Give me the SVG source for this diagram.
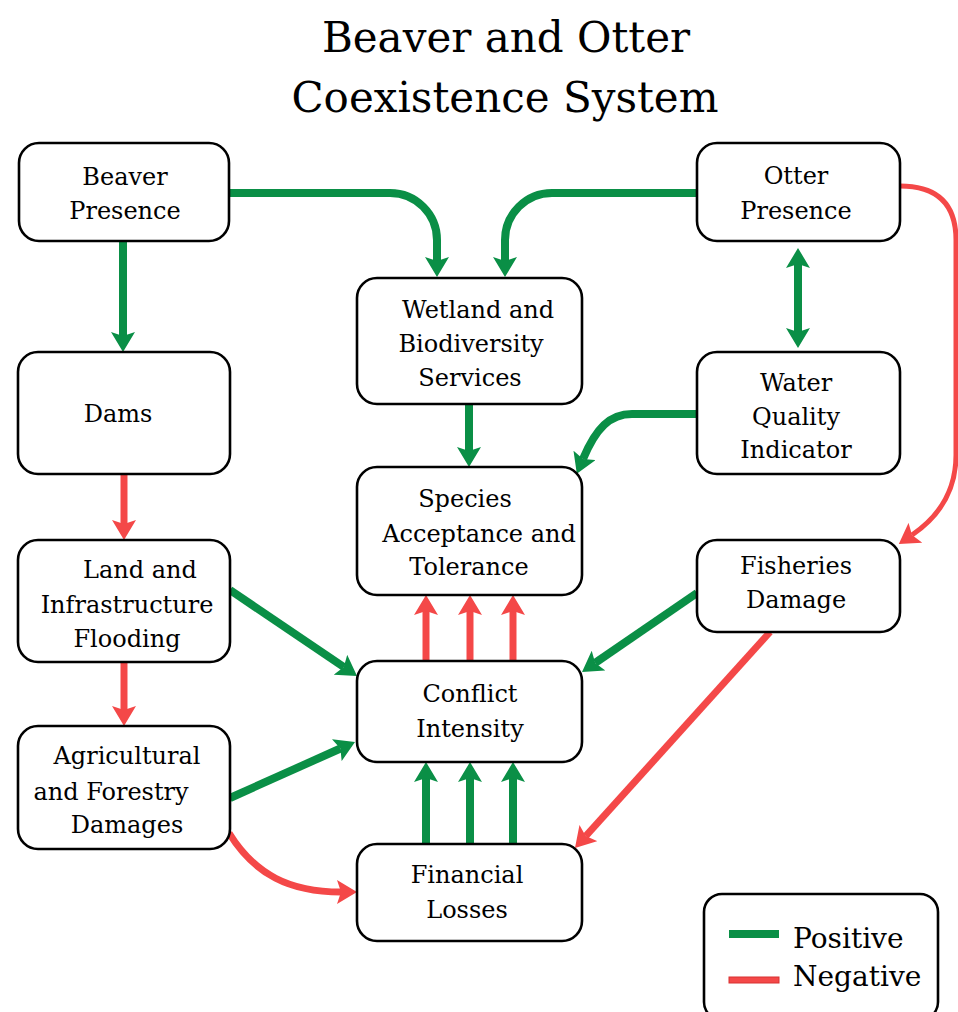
<svg xmlns="http://www.w3.org/2000/svg" width="958" height="1012" viewBox="0 0 958 1012">
<defs>
<style>
.box{fill:#fff;stroke:#000;stroke-width:2.6}
.t{font-family:"DejaVu Serif","Liberation Serif",serif;font-size:24px;fill:#000;text-anchor:middle}
.title{font-family:"DejaVu Serif","Liberation Serif",serif;font-size:42px;fill:#000;text-anchor:middle}
.leg{font-family:"DejaVu Serif","Liberation Serif",serif;font-size:28px;fill:#000}
.g{fill:none;stroke:#0a8f46;stroke-width:8}
.r{fill:none;stroke:#f44848;stroke-width:7}
.rt{fill:none;stroke:#f44848;stroke-width:5}
</style>
<marker id="ag" viewBox="0 0 20 24" markerWidth="20" markerHeight="24" refX="4" refY="12" orient="auto-start-reverse" markerUnits="userSpaceOnUse">
<path d="M0,0 L20,12 L0,24 L4,12 Z" fill="#0a8f46"/>
</marker>
<marker id="ar" viewBox="0 0 20 24" markerWidth="20" markerHeight="24" refX="4" refY="12" orient="auto" markerUnits="userSpaceOnUse">
<path d="M0,0 L20,12 L0,24 L4,12 Z" fill="#f44848"/>
</marker>
</defs>
<rect width="958" height="1012" fill="#fff"/>
<g id="title">
<text class="title" x="506" y="52">Beaver and Otter</text>
<text class="title" x="505" y="112">Coexistence System</text>
</g>
<g id="connectors">
<path class="g" d="M229,193 H390 A47,47 0 0 1 437,240 V261" marker-end="url(#ag)"/>
<path class="g" d="M697,193 H552 A47,47 0 0 0 505,240 V261" marker-end="url(#ag)"/>
<path class="g" d="M123,241 V336" marker-end="url(#ag)"/>
<path class="g" d="M798,264 V332" marker-start="url(#ag)" marker-end="url(#ag)"/>
<path class="g" d="M697,414 H632 C610,414 596,428 583,459" marker-end="url(#ag)"/>
<path class="g" d="M469,404 V451" marker-end="url(#ag)"/>
<path class="r" d="M124,474 V524" marker-end="url(#ar)"/>
<path class="r" d="M124,662 V710" marker-end="url(#ar)"/>
<path class="g" d="M230,590 L343.8,667" marker-end="url(#ag)"/>
<path class="g" d="M230,798 L340.4,748.5" marker-end="url(#ag)"/>
<path class="r" d="M229,833 C255,875 290,892 341,892" marker-end="url(#ar)"/>
<path class="r" d="M426,661 V611" marker-end="url(#ar)"/>
<path class="r" d="M470,661 V611" marker-end="url(#ar)"/>
<path class="r" d="M513,661 V611" marker-end="url(#ar)"/>
<path class="g" d="M426,844 V778" marker-end="url(#ag)"/>
<path class="g" d="M470,844 V778" marker-end="url(#ag)"/>
<path class="g" d="M513,844 V778" marker-end="url(#ag)"/>
<path class="g" d="M697,593 L595.2,662.9" marker-end="url(#ag)"/>
<path class="r" d="M770,632 L585.7,836.1" marker-end="url(#ar)"/>
<path class="rt" d="M900,186 Q956,186 956,240 V455 Q956,505 912,535" marker-end="url(#ar)"/>
</g>
<g id="beaver-presence">
<rect class="box" x="19" y="143" width="210" height="98" rx="20"/>
<text class="t" x="125" y="185">Beaver</text>
<text class="t" x="125" y="219">Presence</text>
</g>
<g id="dams">
<rect class="box" x="18" y="352" width="212" height="122" rx="20"/>
<text class="t" x="118" y="422">Dams</text>
</g>
<g id="land-flooding">
<rect class="box" x="18" y="540" width="212" height="122" rx="20"/>
<text class="t" x="140" y="578">Land and</text>
<text class="t" x="127" y="613">Infrastructure</text>
<text class="t" x="127" y="647">Flooding</text>
</g>
<g id="agricultural-damages">
<rect class="box" x="18" y="726" width="212" height="123" rx="20"/>
<text class="t" x="127" y="764">Agricultural</text>
<text class="t" x="111" y="800">and Forestry</text>
<text class="t" x="127" y="833">Damages</text>
</g>
<g id="wetland-services">
<rect class="box" x="357" y="278" width="225" height="126" rx="20"/>
<text class="t" x="478" y="318">Wetland and</text>
<text class="t" x="471" y="352">Biodiversity</text>
<text class="t" x="470" y="386">Services</text>
</g>
<g id="species-acceptance">
<rect class="box" x="357" y="467" width="225" height="128" rx="20"/>
<text class="t" x="465" y="507">Species</text>
<text class="t" x="479" y="542">Acceptance and</text>
<text class="t" x="469" y="575">Tolerance</text>
</g>
<g id="conflict-intensity">
<rect class="box" x="357" y="661" width="225" height="101" rx="20"/>
<text class="t" x="470" y="702">Conflict</text>
<text class="t" x="470" y="737">Intensity</text>
</g>
<g id="financial-losses">
<rect class="box" x="357" y="844" width="225" height="97" rx="20"/>
<text class="t" x="467" y="883">Financial</text>
<text class="t" x="467" y="918">Losses</text>
</g>
<g id="otter-presence">
<rect class="box" x="697" y="143" width="203" height="98" rx="20"/>
<text class="t" x="796" y="184">Otter</text>
<text class="t" x="796" y="219">Presence</text>
</g>
<g id="water-quality">
<rect class="box" x="697" y="352" width="203" height="122" rx="20"/>
<text class="t" x="796" y="391">Water</text>
<text class="t" x="796" y="425">Quality</text>
<text class="t" x="796" y="458">Indicator</text>
</g>
<g id="fisheries-damage">
<rect class="box" x="697" y="540" width="203" height="92" rx="20"/>
<text class="t" x="796" y="574">Fisheries</text>
<text class="t" x="796" y="608">Damage</text>
</g>
<g id="legend">
<rect class="box" x="704" y="894" width="234" height="126" rx="18"/>
<rect x="729" y="930" width="50" height="8" fill="#0a8f46"/>
<rect x="729" y="977" width="50" height="6" fill="#f44848" stroke="#d83030" stroke-width="1"/>
<text class="leg" x="793" y="948">Positive</text>
<text class="leg" x="793" y="986">Negative</text>
</g>
</svg>
